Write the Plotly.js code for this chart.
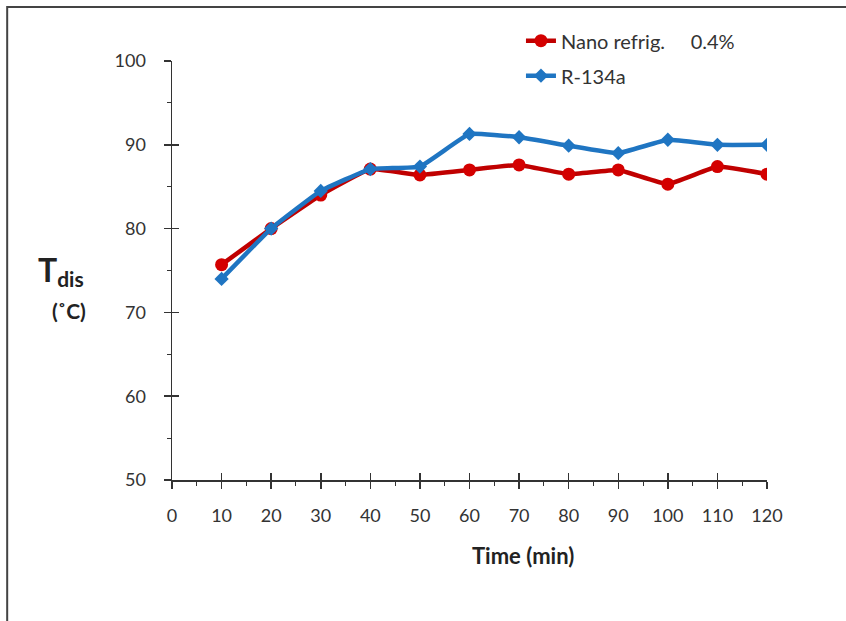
<!DOCTYPE html>
<html>
<head>
<meta charset="utf-8">
<script src="https://cdn.plot.ly/plotly-3.0.1.min.js"></script>
<style>body{margin:0;background:#fff;}#chart{width:846px;height:621px;}</style>
</head>
<body>
<div id="chart"></div>
<script>
var time = [10, 20, 30, 40, 50, 60, 70, 80, 90, 100, 110, 120];
var nanoRefrig = [75.7, 80.0, 84.0, 87.1, 86.4, 87.0, 87.6, 86.5, 87.0, 85.3, 87.4, 86.5];
var r134a = [74.0, 80.0, 84.5, 87.1, 87.4, 91.3, 90.9, 89.9, 89.0, 90.6, 90.0, 90.0];
var seriesNames = ["Nano refrig.\u00a0\u00a0\u00a0\u00a0 0.4%", "R-134a"];
var xTicks = [0, 10, 20, 30, 40, 50, 60, 70, 80, 90, 100, 110, 120];
var yTicks = [50, 60, 70, 80, 90, 100];

var font = "Lato, 'Open Sans', 'DejaVu Sans', sans-serif";
var traces = [
  {x: time, y: nanoRefrig, name: seriesNames[0], type: "scatter", mode: "lines+markers",
   legendgroup: "a",
   line: {color: "#c00000", width: 4.5, shape: "spline", smoothing: 0.3},
   marker: {color: "#d40000", size: 13, symbol: "circle"}},
  {x: time, y: r134a, name: seriesNames[1], type: "scatter", mode: "lines+markers",
   legendgroup: "b",
   line: {color: "#1f75c2", width: 4.5, shape: "spline", smoothing: 0.3},
   marker: {color: "#1f75c2", size: 11, symbol: "diamond"}},
  {x: time, y: r134a, xaxis: "x2", yaxis: "y2", mode: "markers", type: "scatter",
   marker: {opacity: 0, size: 1}, showlegend: false, hoverinfo: "skip"}
];

var layout = {
  width: 846, height: 621,
  margin: {l: 172, r: 79, t: 61, b: 141},
  paper_bgcolor: "#fff", plot_bgcolor: "#fff",
  showlegend: true,
  legend: {x: 0.5865, y: 1.095, xanchor: "left", yanchor: "top",
           font: {family: font, size: 20, color: "#333"}, bgcolor: "rgba(0,0,0,0)",
           traceorder: "grouped", tracegroupgap: 6},
  xaxis: {range: [0, 120], tickvals: xTicks, ticktext: xTicks.map(String),
          showgrid: false, zeroline: false, showline: true, linecolor: "#333", linewidth: 1.5,
          ticks: "outside", ticklen: 7, tickwidth: 1.5, tickcolor: "#333",
          minor: {dtick: 5, ticks: "outside", ticklen: 4, tickwidth: 1, tickcolor: "#333"},
          tickfont: {family: font, size: 18, color: "#333"}, ticklabelstandoff: 12,
          fixedrange: true},
  yaxis: {range: [50, 100], tickvals: yTicks, ticktext: yTicks.map(String),
          showgrid: false, zeroline: false, showline: true, linecolor: "#333", linewidth: 1.5,
          ticks: "outside", ticklen: 7, tickwidth: 1.5, tickcolor: "#333",
          minor: {dtick: 5, ticks: "outside", ticklen: 4, tickwidth: 1, tickcolor: "#333"},
          tickfont: {family: font, size: 18, color: "#333"}, ticklabelstandoff: 14,
          fixedrange: true},
  xaxis2: {overlaying: "x", range: [0, 120], tickmode: "array", tickvals: xTicks, showticklabels: false,
           showgrid: false, zeroline: false, showline: false, ticks: "inside", ticklen: 7,
           tickwidth: 1.5, tickcolor: "#333", anchor: "y2", side: "bottom", fixedrange: true},
  yaxis2: {overlaying: "y", range: [50, 100], tickmode: "array", tickvals: yTicks, showticklabels: false,
           showgrid: false, zeroline: false, showline: false, ticks: "inside", ticklen: 7,
           tickwidth: 1.5, tickcolor: "#333", side: "left", anchor: "x2", fixedrange: true},
  annotations: [
    {xref: "paper", yref: "paper", x: 0.59, y: -0.18, xanchor: "center", yanchor: "middle",
     text: "<b>Time (min)</b>", showarrow: false,
     font: {family: font, size: 22, color: "#222"}},
    {xref: "paper", yref: "paper", x: -0.228, y: 0.5, xanchor: "left", yanchor: "middle",
     text: "<b><span style='font-size:32px'>T</span><sub><span style='font-size:21px'>dis</span></sub></b>", showarrow: false,
     font: {family: font, size: 22, color: "#222"}},
    {xref: "paper", yref: "paper", x: -0.205, y: 0.405, xanchor: "left", yanchor: "middle",
     text: "<b>(˚C)</b>", showarrow: false,
     font: {family: font, size: 21, color: "#222"}}
  ],
  shapes: [
    {type: "rect", xref: "paper", yref: "paper", x0: -0.277, x1: 1.3, y0: -0.5, y1: 1.129,
     line: {color: "#444", width: 2}, fillcolor: "rgba(0,0,0,0)", layer: "below"}
  ]
};

Plotly.newPlot("chart", traces, layout, {displayModeBar: false, staticPlot: true});
</script>
</body>
</html>
